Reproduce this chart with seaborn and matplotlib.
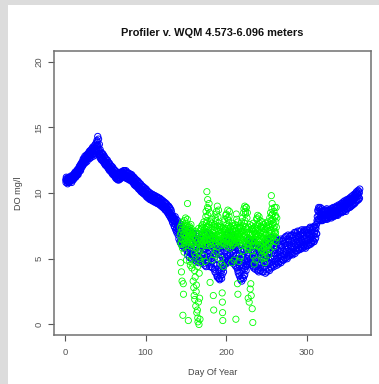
import numpy as np
import matplotlib
matplotlib.use("Agg")
import matplotlib.pyplot as plt
import seaborn as sns
from matplotlib.patches import Rectangle

sns.set_theme(style="white")
plt.rcParams["font.family"] = ["Liberation Sans", "DejaVu Sans"]

TITLE = "Profiler v. WQM 4.573-6.096 meters"
X_LABEL = "Day Of Year"
Y_LABEL = "DO mg/l"
x_ticks = [0, 100, 200, 300]
y_ticks = [0, 5, 10, 15, 20]

# Profiler dissolved oxygen (mg/l), three readings per day, days 1-365
profiler_do = [
    11.0, 10.8, 11.2, 11.1, 10.9, 11.0, 10.9, 10.7, 11.1, 11.0, 10.8, 11.2, 10.9, 10.8, 11.1, 11.0, 10.9, 11.2, 11.1, 10.9, 11.3, 11.0, 10.8, 11.2, 11.2, 11.0, 11.3, 11.1, 11.0, 11.4,
    11.3, 11.1, 11.5, 11.4, 11.2, 11.6, 11.3, 11.2, 11.5, 11.5, 11.3, 11.7, 11.6, 11.4, 11.8, 11.5, 11.4, 11.8, 11.8, 11.6, 12.0, 11.9, 11.7, 12.1, 11.8, 11.7, 12.2, 12.1, 11.9, 12.3,
    12.2, 12.0, 12.4, 12.3, 12.1, 12.6, 12.4, 12.2, 12.6, 12.6, 12.3, 12.8, 12.5, 12.3, 12.7, 12.7, 12.5, 12.9, 12.6, 12.4, 12.9, 12.8, 12.6, 13.0, 12.9, 12.7, 13.1, 12.8, 12.6, 13.2,
    13.0, 12.8, 13.2, 12.9, 12.7, 13.3, 13.1, 12.9, 13.4, 13.2, 12.9, 13.5, 13.1, 12.8, 13.4, 13.3, 13.0, 13.6, 13.2, 12.9, 13.7, 13.4, 13.1, 13.8, 13.6, 13.2, 14.0, 13.9, 13.6, 14.3,
    13.6, 13.2, 14.1, 13.3, 12.9, 13.7, 13.0, 12.7, 13.3, 12.9, 12.6, 13.1, 12.7, 12.5, 13.0, 12.8, 12.5, 13.0, 12.6, 12.4, 12.9, 12.5, 12.3, 12.8, 12.4, 12.2, 12.7, 12.4, 12.1, 12.6,
    12.3, 12.1, 12.5, 12.2, 12.0, 12.5, 12.1, 11.9, 12.3, 12.0, 11.8, 12.3, 11.9, 11.7, 12.2, 11.9, 11.7, 12.1, 11.8, 11.6, 12.0, 11.7, 11.5, 12.0, 11.6, 11.4, 11.9, 11.6, 11.4, 11.8,
    11.5, 11.3, 11.7, 11.4, 11.2, 11.7, 11.3, 11.1, 11.6, 11.3, 11.1, 11.5, 11.2, 11.0, 11.4, 11.2, 11.0, 11.4, 11.2, 11.0, 11.5, 11.3, 11.1, 11.5, 11.3, 11.1, 11.6, 11.4, 11.2, 11.6,
    11.4, 11.2, 11.6, 11.5, 11.3, 11.7, 11.5, 11.3, 11.7, 11.4, 11.2, 11.6, 11.4, 11.2, 11.7, 11.3, 11.1, 11.6, 11.3, 11.1, 11.5, 11.3, 11.1, 11.5, 11.2, 11.0, 11.5, 11.2, 11.0, 11.4,
    11.2, 11.0, 11.4, 11.1, 10.9, 11.4, 11.1, 10.9, 11.3, 11.0, 10.8, 11.2, 10.9, 10.7, 11.2, 10.8, 10.6, 11.1, 10.8, 10.6, 11.0, 10.7, 10.5, 11.0, 10.7, 10.5, 10.9, 10.6, 10.4, 10.9,
    10.5, 10.3, 10.8, 10.5, 10.3, 10.7, 10.4, 10.2, 10.7, 10.3, 10.1, 10.6, 10.3, 10.1, 10.5, 10.2, 10.0, 10.5, 10.2, 10.0, 10.4, 10.1, 9.9, 10.4, 10.1, 9.9, 10.3, 10.0, 9.8, 10.3,
    9.9, 9.7, 10.2, 9.9, 9.7, 10.1, 9.8, 9.6, 10.1, 9.8, 9.6, 10.0, 9.7, 9.5, 10.0, 9.7, 9.5, 9.9, 9.7, 9.5, 9.9, 9.6, 9.4, 9.9, 9.6, 9.4, 9.8, 9.6, 9.4, 9.8,
    9.5, 9.3, 9.8, 9.5, 9.3, 9.7, 9.5, 9.3, 9.7, 9.4, 9.2, 9.7, 9.4, 9.2, 9.6, 9.4, 9.2, 9.6, 9.3, 9.1, 9.6, 9.3, 9.1, 9.5, 9.2, 9.0, 9.5, 9.2, 9.0, 9.4,
    9.1, 8.9, 9.4, 9.1, 8.9, 9.3, 9.0, 8.8, 9.3, 9.0, 8.7, 9.2, 8.9, 8.7, 9.2, 8.9, 8.6, 9.1, 8.8, 8.5, 9.0, 8.7, 8.4, 9.0, 8.6, 8.3, 8.9, 8.5, 8.2, 8.8,
    8.4, 8.1, 8.7, 8.0, 8.5, 8.2, 8.3, 7.8, 8.1, 7.7, 8.2, 7.9, 8.1, 7.5, 7.8, 7.4, 7.9, 8.2, 7.6, 7.2, 8.0, 7.8, 7.3, 7.0, 7.1, 7.6, 7.9, 7.5, 6.8, 7.2,
    7.3, 6.5, 7.7, 6.9, 7.5, 6.3, 7.1, 6.2, 6.7, 6.4, 7.6, 6.9, 6.0, 7.2, 6.6, 7.4, 6.3, 6.8, 6.5, 5.9, 7.1, 7.3, 6.1, 6.7, 5.8, 6.9, 6.4, 6.2, 7.2, 5.9,
    6.8, 5.6, 6.2, 5.3, 7.1, 6.5, 6.0, 5.5, 7.2, 6.6, 5.1, 5.8, 7.0, 6.3, 5.4, 5.6, 6.8, 6.1, 5.0, 6.4, 7.0, 6.2, 5.3, 6.7, 5.7, 6.9, 5.1, 6.5, 5.9, 5.2,
    5.4, 6.6, 4.9, 6.1, 5.0, 6.9, 4.8, 5.8, 6.4, 6.7, 5.2, 5.9, 5.5, 6.3, 4.7, 6.9, 4.9, 5.7, 5.1, 6.0, 6.6, 6.4, 5.6, 4.8, 5.3, 6.8, 6.1, 4.7, 5.9, 6.5,
    6.2, 4.6, 5.5, 5.0, 6.8, 5.8, 6.5, 5.3, 4.5, 5.7, 6.9, 4.9, 4.4, 6.0, 6.6, 5.9, 5.1, 7.0, 6.3, 4.7, 5.4, 4.9, 6.6, 5.9, 5.6, 4.4, 6.2, 6.8, 5.2, 4.6,
    5.0, 6.4, 4.4, 6.7, 5.5, 4.8, 4.3, 5.9, 6.2, 5.4, 6.6, 4.6, 6.1, 4.2, 5.1, 4.0, 5.7, 6.4, 5.3, 3.9, 6.0, 4.5, 6.2, 3.7, 3.6, 5.0, 5.8, 5.5, 4.2, 3.5,
    4.0, 5.8, 3.5, 3.4, 4.6, 5.3, 5.6, 3.7, 4.3, 4.1, 3.5, 6.0, 3.8, 5.1, 4.6, 5.9, 4.3, 4.0, 4.5, 6.3, 5.2, 6.6, 4.9, 5.6, 5.0, 6.1, 4.6, 5.8, 4.7, 6.8,
    6.4, 5.2, 4.8, 5.5, 6.9, 4.9, 4.8, 6.1, 5.8, 6.7, 5.0, 5.4, 5.3, 6.4, 4.8, 6.0, 4.9, 6.8, 4.7, 5.6, 6.3, 6.6, 5.1, 5.9, 5.4, 6.2, 4.6, 4.8, 6.5, 5.7,
    5.9, 4.5, 6.3, 4.4, 5.2, 6.0, 6.2, 4.9, 4.3, 5.0, 4.1, 5.7, 3.9, 5.8, 4.7, 5.4, 3.7, 4.4, 4.0, 5.0, 3.5, 3.4, 4.6, 5.6, 4.9, 3.3, 4.1, 3.6, 5.3, 4.3,
    4.5, 3.5, 5.7, 5.1, 3.7, 4.2, 3.8, 4.8, 5.9, 4.4, 6.1, 4.1, 5.7, 4.6, 5.0, 4.5, 5.3, 6.4, 6.0, 4.8, 5.5, 5.2, 6.5, 4.6, 4.7, 5.8, 6.2, 6.3, 5.0, 4.6,
    5.6, 4.5, 6.4, 4.7, 6.1, 5.2, 6.3, 5.0, 4.4, 4.3, 5.5, 6.0, 5.8, 4.6, 5.2, 4.2, 6.2, 4.9, 5.4, 4.4, 5.9, 6.1, 5.1, 4.1, 4.6, 5.7, 4.2, 5.3, 4.0, 6.0,
    4.5, 5.9, 5.1, 5.6, 4.1, 4.7, 4.3, 5.3, 6.0, 5.8, 4.6, 4.0, 4.9, 6.1, 5.4, 4.0, 5.1, 5.7, 5.5, 4.4, 6.2, 6.0, 4.8, 3.9, 4.2, 5.6, 5.0, 5.2, 4.0, 6.3,
    4.6, 6.0, 5.3, 5.8, 4.2, 6.5, 4.9, 5.5, 4.1, 6.3, 4.7, 5.1, 4.4, 5.9, 6.6, 5.4, 4.3, 6.1, 6.4, 5.0, 4.6, 4.5, 6.2, 5.6, 5.2, 4.4, 6.5, 6.0, 4.8, 5.4,
    4.6, 5.7, 6.4, 5.9, 5.0, 4.5, 6.5, 4.8, 5.4, 5.1, 6.2, 4.7, 4.6, 5.6, 6.1, 6.4, 5.3, 4.8, 5.0, 6.0, 5.6, 4.7, 6.5, 5.2, 5.9, 4.9, 6.3, 5.4, 6.4, 4.9,
    5.6, 4.9, 6.5, 6.2, 5.3, 6.6, 5.0, 6.0, 5.5, 6.7, 5.7, 5.1, 5.4, 6.3, 5.0, 6.0, 5.2, 6.8, 5.8, 6.5, 5.3, 5.2, 6.1, 6.7, 6.4, 5.5, 5.9, 5.3, 6.8, 6.0,
    6.3, 5.4, 6.8, 5.9, 6.6, 5.3, 6.8, 5.7, 6.2, 5.5, 6.4, 7.0, 6.1, 5.4, 6.7, 7.0, 6.0, 5.6, 5.8, 6.9, 6.3, 6.5, 5.6, 7.1, 6.0, 6.8, 5.7, 6.6, 5.8, 6.3,
    6.2, 7.1, 5.7, 6.8, 5.9, 6.5, 5.8, 6.4, 7.2, 6.9, 6.1, 5.8, 6.4, 7.0, 6.0, 5.9, 6.7, 7.2, 7.1, 6.3, 5.9, 6.5, 5.8, 7.0, 6.1, 7.2, 6.6, 6.9, 6.0, 6.4,
    6.4, 7.2, 6.0, 7.0, 6.2, 6.7, 6.1, 6.8, 7.3, 7.4, 6.5, 6.1, 6.6, 7.1, 6.2, 6.2, 6.9, 7.4, 7.2, 6.4, 6.8, 6.7, 7.4, 6.3, 6.3, 6.9, 7.5, 7.1, 6.5, 7.4,
    6.6, 7.3, 6.9, 7.6, 6.9, 7.9, 8.2, 7.8, 8.7, 8.6, 8.0, 8.9, 8.3, 8.8, 7.9, 8.5, 8.0, 8.9, 8.2, 8.7, 7.9, 8.4, 8.0, 8.8, 8.6, 7.9, 8.3, 8.1, 8.6, 8.3,
    8.3, 8.0, 8.7, 8.4, 8.1, 8.6, 8.3, 8.0, 8.7, 8.4, 8.1, 8.8, 8.3, 8.0, 8.6, 8.4, 8.1, 8.7, 8.3, 8.1, 8.6, 8.4, 8.2, 8.7, 8.5, 8.2, 8.8, 8.4, 8.1, 8.7,
    8.5, 8.2, 8.8, 8.6, 8.3, 8.9, 8.5, 8.2, 8.7, 8.6, 8.3, 8.9, 8.5, 8.3, 8.8, 8.6, 8.3, 9.0, 8.7, 8.4, 8.9, 8.6, 8.3, 9.0, 8.7, 8.4, 9.1, 8.8, 8.5, 9.0,
    8.8, 8.5, 9.1, 8.9, 8.6, 9.2, 8.8, 8.5, 9.1, 9.0, 8.6, 9.3, 8.9, 8.6, 9.2, 9.0, 8.7, 9.4, 9.1, 8.7, 9.3, 9.0, 8.6, 9.4, 9.1, 8.8, 9.5, 9.2, 8.8, 9.4,
    9.2, 8.9, 9.5, 9.3, 8.9, 9.6, 9.2, 8.9, 9.5, 9.4, 9.0, 9.7, 9.3, 9.0, 9.6, 9.5, 9.1, 9.8, 9.4, 9.1, 9.7, 9.5, 9.2, 9.9, 9.6, 9.2, 9.8, 9.7, 9.3, 10.0,
    9.8, 9.4, 10.1, 9.7, 9.4, 10.0, 9.9, 9.5, 10.2, 9.8, 9.5, 10.1, 10.0, 9.6, 10.3,
]

# WQM dissolved oxygen (mg/l), four readings per day, days 143-262
wqm_do = [
    6.8, 7.4, 4.7, 6.2, 7.0, 6.1, 4.0, 7.6, 6.5, 3.3, 7.2, 5.8, 7.8, 0.7, 6.4, 3.1, 2.3, 6.9, 7.5, 5.5,
    6.2, 7.9, 6.9, 6.6, 7.3, 6.4, 8.1, 6.0, 6.7, 7.5, 7.7, 4.9, 6.8, 7.1, 6.3, 8.0, 9.2, 6.5, 7.4, 7.0,
    0.3, 6.8, 6.2, 7.4, 6.0, 7.5, 7.2, 4.8, 6.7, 6.6, 4.5, 7.0, 6.4, 7.6, 7.3, 5.9, 6.9, 6.8, 4.3, 6.1,
    7.0, 6.6, 6.3, 4.6, 3.3, 6.2, 7.1, 2.8, 6.7, 2.2, 5.4, 4.1, 1.9, 6.0, 3.6, 7.1, 5.2, 1.4, 6.5, 2.5,
    3.0, 5.8, 0.9, 6.9, 6.3, 1.1, 4.4, 0.5, 0.2, 5.5, 1.7, 7.3, 6.1, 0.0, 3.9, 5.0, 2.0, 6.6, 0.4, 5.7,
    6.4, 7.2, 4.7, 6.4, 6.8, 7.3, 7.5, 6.1, 5.9, 7.0, 6.2, 7.6, 7.4, 6.6, 6.7, 5.2, 6.3, 7.8, 7.0, 6.9,
    6.5, 6.4, 7.3, 4.8, 7.1, 6.8, 6.0, 8.2, 8.6, 6.5, 7.7, 7.4, 10.1, 7.9, 6.2, 8.9, 9.5, 8.3, 7.1, 6.0,
    8.8, 7.4, 6.8, 9.2, 7.6, 6.3, 8.5, 6.5, 3.2, 6.9, 7.8, 6.1, 6.4, 7.3, 6.7, 8.0, 7.7, 5.9, 6.8, 4.9,
    6.6, 7.0, 6.2, 7.5, 2.2, 6.6, 1.1, 5.3, 6.9, 7.2, 7.6, 6.0, 7.4, 8.1, 6.7, 6.5, 6.2, 7.9, 5.5, 8.4,
    8.6, 6.8, 7.3, 5.9, 9.0, 7.5, 6.4, 8.2, 7.1, 6.8, 8.7, 6.6, 6.3, 7.7, 7.4, 6.9, 6.7, 6.4, 7.2, 5.0,
    6.8, 7.5, 6.0, 7.4, 6.2, 7.0, 4.6, 6.3, 2.4, 1.7, 0.9, 0.3, 6.5, 7.1, 7.3, 4.4, 7.8, 6.2, 6.6, 7.0,
    6.1, 8.0, 6.7, 7.3, 7.2, 6.8, 8.3, 6.4, 8.4, 6.9, 6.5, 7.6, 6.6, 8.1, 7.0, 5.9, 8.7, 7.3, 6.1, 7.9,
    7.5, 6.4, 8.2, 6.6, 8.6, 7.1, 6.5, 5.8, 6.9, 7.4, 7.4, 6.2, 6.8, 7.0, 6.3, 4.7, 6.4, 7.5, 7.7, 6.0,
    7.2, 6.1, 7.1, 6.8, 6.6, 6.7, 7.5, 4.9, 6.8, 7.3, 6.2, 7.3, 7.6, 6.5, 6.7, 6.9, 0.4, 7.1, 8.4, 6.2,
    8.0, 6.6, 7.4, 6.5, 3.1, 7.8, 2.3, 6.4, 6.9, 6.7, 7.2, 4.8, 7.3, 6.2, 7.4, 6.7, 6.9, 7.5, 6.5, 5.1,
    6.6, 7.3, 7.0, 6.0, 7.8, 6.4, 6.8, 7.1, 6.2, 8.1, 6.9, 5.6, 7.5, 6.7, 8.5, 6.1, 8.8, 7.2, 6.3, 7.7,
    9.0, 7.9, 6.8, 8.4, 8.6, 7.4, 8.9, 6.5, 8.9, 7.0, 6.2, 8.1, 7.3, 8.5, 6.6, 5.7, 6.1, 2.0, 7.4, 5.9,
    7.0, 6.4, 1.7, 6.8, 6.4, 7.6, 5.8, 2.7, 6.5, 6.9, 3.1, 7.2, 2.2, 6.3, 7.5, 5.6, 6.8, 1.2, 6.9, 7.3,
    0.15, 6.0, 7.7, 5.2, 7.1, 6.5, 6.4, 4.6, 6.3, 7.4, 6.0, 6.9, 6.8, 6.6, 7.2, 4.9, 7.5, 6.6, 6.1, 8.0,
    6.9, 8.1, 6.7, 7.3, 8.3, 6.4, 7.6, 6.0, 7.2, 5.9, 6.8, 8.2, 6.5, 7.7, 6.4, 7.0, 7.9, 6.3, 7.4, 5.8,
    6.1, 7.1, 5.6, 6.7, 7.4, 5.2, 6.5, 7.8, 5.7, 6.9, 7.3, 5.0, 6.6, 7.6, 5.5, 6.2, 7.0, 5.8, 6.4, 4.7,
    6.3, 7.2, 5.1, 6.8, 7.7, 6.0, 7.5, 5.6, 6.8, 7.4, 5.9, 6.5, 7.3, 6.5, 7.8, 6.1, 6.0, 7.5, 6.6, 5.3,
    7.6, 6.2, 7.1, 5.7, 8.1, 6.9, 7.4, 6.3, 8.5, 7.2, 6.5, 7.9, 9.8, 8.3, 7.0, 8.8, 9.2, 7.6, 8.4, 6.7,
    8.0, 6.8, 7.7, 5.9, 7.3, 8.6, 6.4, 7.1, 8.9, 7.5, 6.9, 8.2, 8.3, 7.0, 7.8, 6.3, 8.9, 7.4, 6.6, 8.1,
]

# Sampling times within each day
profiler_day = np.repeat(np.arange(1, 366), 3) + np.tile([0.0, 1 / 3, 2 / 3], 365)
wqm_day = np.repeat(np.arange(143, 263), 4) + np.tile([0.0, 0.25, 0.5, 0.75], 120)

W, H = 379, 384
fig = plt.figure(figsize=(W / 100, H / 100), dpi=100)
fig.patch.set_facecolor("white")

# light grey frame strips on the top and left edges
fig.patches.append(Rectangle((0, 0), 8 / W, 1, transform=fig.transFigure,
                             facecolor="#dcdcdc", edgecolor="none", zorder=-5))
fig.patches.append(Rectangle((0, 1 - 5 / H), 1, 5 / H, transform=fig.transFigure,
                             facecolor="#dcdcdc", edgecolor="none", zorder=-5))

ax = fig.add_axes([54 / W, 1 - 335 / H, (371 - 54) / W, (335 - 51) / H])
ax.set_facecolor("white")

# profiler first, WQM points over it
sns.scatterplot(x=profiler_day, y=profiler_do, ax=ax, marker="o", s=20,
                color="#0000ff", facecolors="none", edgecolor="#0000ff",
                linewidth=0.7, legend=False, zorder=2)
sns.scatterplot(x=wqm_day, y=wqm_do, ax=ax, marker="o", s=20,
                color="#00ff00", facecolors="none", edgecolor="#00ff00",
                linewidth=0.6, legend=False, zorder=3)

ax.set_xlim(-13.6, 379.6)
ax.set_ylim(-0.8, 20.8)
ax.set_xticks(x_ticks)
ax.set_xticklabels([str(v) for v in x_ticks])
ax.set_yticks(y_ticks)
ax.set_yticklabels([str(v) for v in y_ticks], rotation=90, va="center")

ax.tick_params(axis="both", direction="out", length=4.5, width=0.8,
               colors="#555555", labelsize=6.8, bottom=True, left=True)
ax.tick_params(axis="x", pad=5)
ax.tick_params(axis="y", pad=3)
for sp in ax.spines.values():
    sp.set_visible(True)
    sp.set_color("#707070")
    sp.set_linewidth(1.1)

ax.set_title(TITLE, fontsize=7.9, fontweight="bold", color="#111111", pad=11)
ax.set_xlabel(X_LABEL, fontsize=6.6, color="#444444", labelpad=8)
ax.set_ylabel(Y_LABEL, fontsize=6.6, color="#444444", labelpad=8)

fig.savefig("out.png", dpi=100)
